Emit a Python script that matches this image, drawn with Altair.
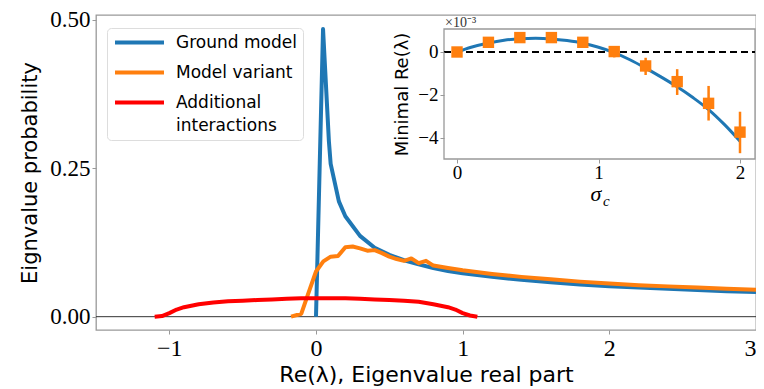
import altair as alt
import pandas as pd

# ---------------- main panel data ----------------
series_names = ["Ground model", "Model variant", "Additional interactions"]
series_colors = ["#1f77b4", "#ff7f0e", "#ff0000"]

ground_x = [0.0, 0.048, 0.088, 0.1, 0.156, 0.2, 0.3, 0.4, 0.5, 0.6, 0.7, 0.8, 0.9, 1.0,
            1.2, 1.4, 1.6, 1.8, 2.0, 2.2, 2.4, 2.6, 2.8, 3.0]
ground_y = [0.0, 0.484, 0.295, 0.257, 0.194, 0.169, 0.136, 0.116, 0.104, 0.095, 0.088,
            0.082, 0.077, 0.073, 0.067, 0.062, 0.058, 0.054, 0.051, 0.049, 0.047, 0.045,
            0.043, 0.0415]

variant_x = [-0.17, -0.1, -0.05, 0.0, 0.05, 0.1, 0.15, 0.2, 0.25, 0.3, 0.35, 0.4, 0.45,
             0.5, 0.55, 0.6, 0.65, 0.7, 0.75, 0.8, 0.85, 0.9, 1.0, 1.2, 1.4, 1.6, 1.8,
             2.0, 2.2, 2.4, 2.6, 2.8, 3.0]
variant_y = [0.0, 0.005, 0.041, 0.076, 0.093, 0.101, 0.102, 0.117, 0.118, 0.115, 0.111,
             0.112, 0.107, 0.101, 0.097, 0.094, 0.098, 0.09, 0.094, 0.086, 0.084, 0.082,
             0.078, 0.072, 0.067, 0.063, 0.059, 0.056, 0.053, 0.051, 0.049, 0.047, 0.0455]

extra_x = [-1.1, -1.05, -1.0, -0.95, -0.9, -0.8, -0.7, -0.6, -0.5, -0.4, -0.3, -0.2, -0.1,
           0.0, 0.1, 0.2, 0.3, 0.4, 0.5, 0.6, 0.7, 0.8, 0.9, 0.95, 1.0, 1.05, 1.1]
extra_y = [0.0, 0.001, 0.006, 0.012, 0.016, 0.021, 0.024, 0.026, 0.027, 0.028, 0.029,
           0.030, 0.031, 0.031, 0.031, 0.031, 0.030, 0.029, 0.028, 0.027, 0.025, 0.021,
           0.016, 0.012, 0.006, 0.002, 0.0]

x_ticks = [-1, 0, 1, 2, 3]
y_ticks = [0.0, 0.25, 0.5]

# ---------------- inset data ----------------
sigma = [0.0, 0.222, 0.444, 0.667, 0.889, 1.111, 1.333, 1.556, 1.778, 2.0]
min_re = [0.0, 0.45, 0.67, 0.67, 0.45, 0.02, -0.65, -1.38, -2.39, -3.73]
err_lo = [-0.05, 0.4, 0.62, 0.62, 0.4, -0.25, -1.07, -2.0, -3.19, -4.71]
err_hi = [0.05, 0.5, 0.72, 0.72, 0.5, 0.25, -0.27, -0.8, -1.58, -2.78]

theory_sigma = [0.0, 0.1, 0.222, 0.333, 0.444, 0.556, 0.667, 0.778, 0.889, 1.0, 1.111,
                1.222, 1.333, 1.444, 1.556, 1.667, 1.778, 1.889, 2.0]
theory_re = [0.0, 0.22, 0.42, 0.55, 0.62, 0.64, 0.61, 0.53, 0.41, 0.22, -0.03, -0.36,
             -0.75, -1.17, -1.62, -2.12, -2.68, -3.37, -4.15]
inset_x_ticks = [0, 1, 2]
inset_y_ticks = [0, -2, -4]

# ---------------- layout constants ----------------
W, H = 660, 315
IX0, IX1, IY0, IY1 = 348, 659, 14, 144
SERIF = "Liberation Serif"
SANS = "DejaVu Sans"
FRAME = "#999999"

rows = []
for name, xs, ys in zip(series_names, [ground_x, variant_x, extra_x],
                        [ground_y, variant_y, extra_y]):
    for xv, yv in zip(xs, ys):
        rows.append({"x": xv, "y": yv, "series": name})
main_df = pd.DataFrame(rows)

x_enc = alt.X("x:Q", scale=alt.Scale(domain=[-1.5, 3], nice=False, zero=False),
              axis=alt.Axis(values=x_ticks, format="d", title="Re(λ), Eigenvalue real part",
                            labelFont=SERIF, labelFontSize=24, titleFont=SANS,
                            titleFontSize=22, titleFontWeight="normal", titleColor="black",
                            labelColor="black", tickColor=FRAME, tickSize=4, domain=False,
                            grid=False, labelPadding=2, titlePadding=4))
y_enc = alt.Y("y:Q", scale=alt.Scale(domain=[-0.0224, 0.5076], nice=False, zero=False),
              axis=alt.Axis(values=y_ticks, format=".2f", title="Eignvalue probability",
                            labelFont=SERIF, labelFontSize=23, titleFont=SANS,
                            titleFontSize=21, titleFontWeight="normal", titleColor="black",
                            labelColor="black", tickColor=FRAME, tickSize=4, domain=False,
                            grid=False, labelPadding=2, titlePadding=9))

color_enc = alt.Color(
    "series:N",
    scale=alt.Scale(domain=series_names, range=series_colors),
    legend=alt.Legend(
        orient="none", legendX=11, legendY=13, title=None,
        symbolType="M-4,0H4", symbolSize=150, symbolStrokeWidth=4, symbolOffset=18,
        labelFont=SANS, labelFontSize=17, labelColor="black",
        fillColor="white", strokeColor="#dddddd", padding=6, cornerRadius=4,
        rowPadding=12, labelOffset=28,
        labelExpr="datum.label == 'Additional interactions' ? ['Additional', 'interactions'] : datum.label",
    ),
)

base = alt.Chart(main_df)
zero_line = alt.Chart(pd.DataFrame({"z": [0.0]})).mark_rule(
    color="#333333", strokeWidth=1).encode(y=alt.Y("z:Q"))
lines = [
    base.transform_filter(alt.datum.series == name).mark_line(
        strokeWidth=4, strokeJoin="round").encode(x=x_enc, y=y_enc, color=color_enc)
    for name in series_names
]
main_layer = alt.layer(zero_line, *lines)

# ---------------- inset ----------------
ix_scale = alt.Scale(domain=[-0.092, 2.106], range=[IX0, IX1], nice=False, zero=False)
iy_scale = alt.Scale(domain=[-4.98, 1.07], range=[IY1, IY0], nice=False, zero=False)

inset_pts = pd.DataFrame({"s": sigma, "m": min_re, "lo": err_lo, "hi": err_hi})
inset_curve = pd.DataFrame({"s": theory_sigma, "m": theory_re})

ix_axis = alt.Axis(values=inset_x_ticks, format="d", title=None, orient="bottom",
                   offset=-(H - IY1), labelFont=SERIF, labelFontSize=19, labelColor="black",
                   tickColor=FRAME, tickSize=4, domain=False, grid=False, zindex=2,
                   labelPadding=0)
iy_axis = alt.Axis(values=inset_y_ticks, format="d", title="Minimal Re(λ)", orient="left",
                   offset=-IX0, labelFont=SERIF, labelFontSize=19, labelColor="black",
                   titleFont=SANS, titleFontSize=18, titleFontWeight="normal",
                   titleColor="black", tickColor=FRAME, tickSize=4, domain=False,
                   grid=False, zindex=2, labelPadding=2, titlePadding=6)

one = pd.DataFrame({"a": [0]})
frame = alt.Chart(one).mark_rect(fill="white", stroke=FRAME, strokeWidth=1.3).encode(
    x=alt.value(IX0), x2=alt.value(IX1), y=alt.value(IY0), y2=alt.value(IY1))

dash = alt.Chart(one).mark_rule(color="black", strokeWidth=2.2, strokeDash=[7, 4]).encode(
    x=alt.value(IX0), x2=alt.value(IX1),
    y=alt.Y("a:Q", scale=iy_scale, axis=iy_axis))

curve = alt.Chart(inset_curve).mark_line(color="#1f77b4", strokeWidth=3,
                                          interpolate="monotone").encode(
    x=alt.X("s:Q", scale=ix_scale, axis=ix_axis),
    y=alt.Y("m:Q", scale=iy_scale, axis=iy_axis))

errs = alt.Chart(inset_pts).mark_rule(color="#ff7f0e", strokeWidth=2.5).encode(
    x=alt.X("s:Q", scale=ix_scale, axis=ix_axis),
    y=alt.Y("lo:Q", scale=iy_scale, axis=iy_axis), y2="hi:Q")

squares = alt.Chart(inset_pts).mark_square(color="#ff7f0e", size=130, opacity=1).encode(
    x=alt.X("s:Q", scale=ix_scale, axis=ix_axis),
    y=alt.Y("m:Q", scale=iy_scale, axis=iy_axis))

exp_text = alt.Chart(one).mark_text(text="×10⁻³", font=SERIF, fontSize=14, align="left",
                                    baseline="alphabetic", color="#333333").encode(
    x=alt.value(IX0 + 1), y=alt.value(12))
sig_text = alt.Chart(one).mark_text(text="σ", font=SERIF, fontSize=22, fontStyle="italic",
                                    align="center", baseline="alphabetic",
                                    color="black").encode(
    x=alt.value(500), y=alt.value(186))
sub_text = alt.Chart(one).mark_text(text="c", font=SERIF, fontSize=15, fontStyle="italic",
                                    align="left", baseline="alphabetic",
                                    color="black").encode(
    x=alt.value(507), y=alt.value(191))

inset_layer = alt.layer(frame, dash, curve, errs, squares, exp_text, sig_text, sub_text)

chart = alt.layer(main_layer, inset_layer).resolve_scale(
    x="independent", y="independent"
).resolve_axis(x="independent", y="independent").properties(
    width=W, height=H,
    autosize=alt.AutoSizeParams(type="none"),
    padding={"left": 88, "top": 7, "right": 0, "bottom": 58},
).configure(
    background="white",
    view=alt.ViewConfig(stroke=FRAME, strokeWidth=1.3),
    style={"guide-label": {"lineHeight": 23}},
)

chart.save("out.html", embed_options={"renderer": "svg", "actions": False})
